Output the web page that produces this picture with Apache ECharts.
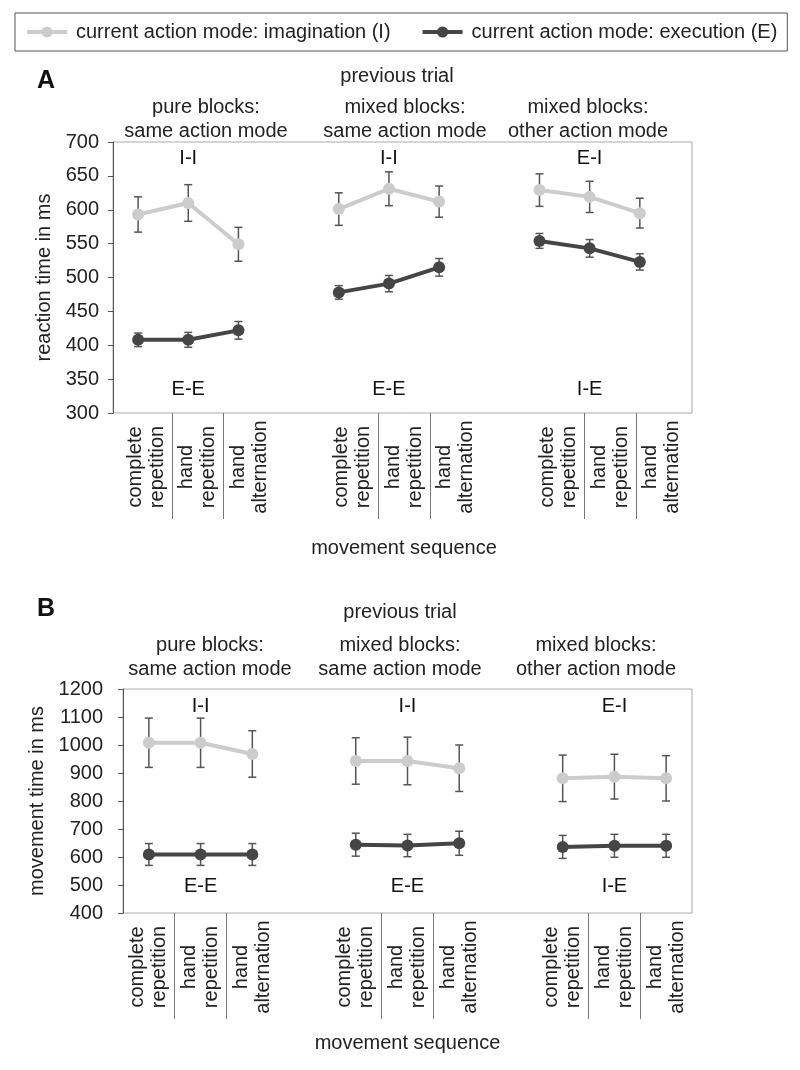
<!DOCTYPE html>
<html><head><meta charset="utf-8">
<script src="https://cdn.jsdelivr.net/npm/echarts@6/dist/echarts.min.js"></script>
<style>html,body{margin:0;padding:0;background:#fff}#chart{width:800px;height:1070px}</style>
</head><body><div id="chart"></div>
<script>
// ---------- data ----------
const seqLabels = ['complete\nrepetition', 'hand\nrepetition', 'hand\nalternation'];
const groupTitles = ['pure blocks:\nsame action mode', 'mixed blocks:\nsame action mode', 'mixed blocks:\nother action mode'];
const seriesNames = ['current action mode: imagination (I)', 'current action mode: execution (E)'];
const topLabels = ['I-I', 'I-I', 'E-I'];
const bottomLabels = ['E-E', 'E-E', 'I-E'];
// Panel A: reaction time in ms (3 groups x 3 sequences)
const rtImag    = [593, 610, 549, 601, 631, 612, 629, 619, 595];
const rtImagErr = [26, 27, 25, 24, 25, 23, 24, 23, 22];
const rtExec    = [408, 408, 422, 478, 491, 515, 554, 543, 523];
const rtExecErr = [10, 11, 13, 10, 12, 13, 11, 13, 12];
// Panel B: movement time in ms
const mtImag    = [1008, 1008, 968, 943, 943, 917, 881, 887, 881];
const mtImagErr = [88, 88, 83, 83, 85, 83, 83, 80, 81];
const mtExec    = [609, 609, 609, 644, 641, 649, 636, 640, 640];
const mtExecErr = [39, 39, 39, 41, 40, 43, 41, 41, 41];
const rtAxis = {min: 300, max: 700, interval: 50};
const mtAxis = {min: 400, max: 1200, interval: 100};
const rtAnnoY = [675, 335];
const mtAnnoY = [1136, 493];

// ---------- helpers ----------
const LIGHT = '#cccccc', DARK = '#454545', ERR = '#555555';
const FONT = '"Liberation Sans", Arial, Helvetica, sans-serif';
const slotOf = i => Math.floor(i / 3) * 4 + (i % 3);
const NSLOT = 11;
const catLabels = [];
for (let s = 0; s < NSLOT; s++) catLabels.push((s % 4 === 3) ? '' : seqLabels[s % 4]);
const boundaries = [];
for (let s = 0; s <= NSLOT; s++) boundaries.push('b' + s);
const sepIdx = [1, 2, 5, 6, 9, 10];

function lineDataValue(vals) { // for value x-axis
  const out = [];
  for (let s = 0; s < NSLOT; s++) out.push([s, '-']);
  vals.forEach((v, i) => { out[slotOf(i)] = [slotOf(i), v]; });
  return out;
}
function lineDataCat(vals) {
  const out = new Array(NSLOT).fill('-');
  vals.forEach((v, i) => { out[slotOf(i)] = v; });
  return out;
}
function errData(vals, errs) {
  return vals.map((v, i) => [slotOf(i), v - errs[i], v + errs[i]]);
}
function renderErr(params, api) {
  const x = api.value(0), lo = api.value(1), hi = api.value(2);
  const p1 = api.coord([x, hi]), p2 = api.coord([x, lo]);
  const w = 4;
  const st = {stroke: ERR, lineWidth: 1.5};
  return {type: 'group', children: [
    {type: 'line', shape: {x1: p1[0], y1: p1[1], x2: p2[0], y2: p2[1]}, style: st},
    {type: 'line', shape: {x1: p1[0] - w, y1: p1[1], x2: p1[0] + w, y2: p1[1]}, style: st},
    {type: 'line', shape: {x1: p2[0] - w, y1: p2[1], x2: p2[0] + w, y2: p2[1]}, style: st}
  ]};
}
function annoData(yTop, yBot) {
  const out = [];
  for (let g = 0; g < 3; g++) {
    out.push({value: [g * 4 + 1, yTop], label: {formatter: topLabels[g]}});
    out.push({value: [g * 4 + 1, yBot], label: {formatter: bottomLabels[g]}});
  }
  return out;
}
const lineSeries = (name, color, data, xi, yi) => ({
  type: 'line', name, data, xAxisIndex: xi, yAxisIndex: yi,
  symbol: 'circle', symbolSize: 12, z: 3,
  lineStyle: {color, width: 4}, itemStyle: {color},
  connectNulls: false, animation: false
});
const errSeries = (data, xi, yi) => ({
  type: 'custom', data, xAxisIndex: xi, yAxisIndex: yi, renderItem: renderErr, z: 2, animation: false, silent: true
});
const annoSeries = (data, xi, yi) => ({
  type: 'scatter', data, xAxisIndex: xi, yAxisIndex: yi, symbolSize: 0, silent: true, animation: false,
  itemStyle: {color: '#111', opacity: 1},
  label: {show: true, position: 'inside', fontSize: 20, color: '#111', fontFamily: FONT}
});

const yAxisBase = (gi, ax, name, gap, margin) => ({
  gridIndex: gi, type: 'value', min: ax.min, max: ax.max, interval: ax.interval,
  name, nameLocation: 'middle', nameGap: gap,
  nameTextStyle: {fontSize: 20, color: '#222', fontFamily: FONT},
  axisLine: {show: true, onZero: false, lineStyle: {color: '#555', width: 1}},
  axisTick: {show: true, length: 5, lineStyle: {color: '#555'}},
  axisLabel: {fontSize: 20, color: '#222', margin, fontFamily: FONT, formatter: v => String(v)},
  splitLine: {show: false}
});
const labelAxis = (gi, gap) => ({
  gridIndex: gi, type: 'category', data: catLabels, boundaryGap: true, position: 'bottom',
  axisLine: {show: false, onZero: false}, axisTick: {show: false},
  axisLabel: {interval: 0, rotate: 90, align: 'center', verticalAlign: 'middle', margin: 54,
    fontSize: 20, lineHeight: 22, color: '#222', fontFamily: FONT},
  name: 'movement sequence', nameLocation: 'middle', nameGap: gap,
  nameTextStyle: {fontSize: 20, color: '#222', fontFamily: FONT}
});
const sepAxis = (gi) => ({
  gridIndex: gi, type: 'category', data: boundaries, boundaryGap: false, position: 'bottom',
  axisLine: {show: false, onZero: false}, axisLabel: {show: false},
  axisTick: {show: true, length: 106, interval: (i) => sepIdx.indexOf(i) >= 0,
    lineStyle: {color: '#777', width: 1}}
});

const titleText = (text, x, y, opts) => ({
  type: 'text', x, y, silent: true,
  style: Object.assign({text, fontSize: 20, fontFamily: FONT, fill: '#222',
    align: 'center', verticalAlign: 'middle', lineHeight: 24}, opts || {})
});

const option = {
  animation: false,
  textStyle: {fontFamily: FONT},
  legend: {
    data: seriesNames, left: 15, top: 13, orient: 'horizontal',
    borderColor: '#555', borderWidth: 1, padding: [9, 10, 9, 10],
    itemWidth: 40, itemHeight: 14, itemGap: 30,
    lineStyle: {width: 4},
    textStyle: {fontSize: 20, color: '#222', fontFamily: FONT, padding: [0, 0, 0, 4]}
  },
  grid: [
    {left: 113, right: 108, top: 142, height: 271, show: true, borderColor: '#aaa', borderWidth: 1, containLabel: false},
    {left: 120.5, right: 112.5, top: 142, height: 271, show: false, containLabel: false},
    {left: 123, right: 108, top: 689, height: 224, show: true, borderColor: '#aaa', borderWidth: 1, containLabel: false}
  ],
  xAxis: [
    {gridIndex: 0, type: 'value', min: -0.5, max: 11.04, show: false, axisLine: {onZero: false}},
    labelAxis(1, 125),
    sepAxis(1),
    labelAxis(2, 120),
    sepAxis(2)
  ],
  yAxis: [
    yAxisBase(0, rtAxis, 'reaction time in ms', 59, 14),
    {gridIndex: 1, type: 'value', show: false, axisLine: {onZero: false}},
    yAxisBase(2, mtAxis, 'movement time in ms', 69, 20)
  ],
  series: [
    errSeries(errData(rtImag, rtImagErr), 0, 0),
    errSeries(errData(rtExec, rtExecErr), 0, 0),
    lineSeries(seriesNames[0], LIGHT, lineDataValue(rtImag), 0, 0),
    lineSeries(seriesNames[1], DARK, lineDataValue(rtExec), 0, 0),
    annoSeries(annoData(rtAnnoY[0], rtAnnoY[1]), 0, 0),
    errSeries(errData(mtImag, mtImagErr), 3, 2),
    errSeries(errData(mtExec, mtExecErr), 3, 2),
    lineSeries(seriesNames[0], LIGHT, lineDataCat(mtImag), 3, 2),
    lineSeries(seriesNames[1], DARK, lineDataCat(mtExec), 3, 2),
    annoSeries(annoData(mtAnnoY[0], mtAnnoY[1]), 3, 2)
  ],
  graphic: [
    titleText('A', 37, 81, {fontSize: 25, fontWeight: 'bold', align: 'left', fill: '#111'}),
    titleText('previous trial', 397, 76),
    titleText(groupTitles[0], 206, 119),
    titleText(groupTitles[1], 405, 119),
    titleText(groupTitles[2], 588, 119),
    titleText('B', 37, 609, {fontSize: 25, fontWeight: 'bold', align: 'left', fill: '#111'}),
    titleText('previous trial', 400, 612),
    titleText(groupTitles[0], 210, 657),
    titleText(groupTitles[1], 400, 657),
    titleText(groupTitles[2], 596, 657)
  ]
};
const chart = echarts.init(document.getElementById('chart'), null, {renderer: 'canvas'});
chart.setOption(option);
</script></body></html>
